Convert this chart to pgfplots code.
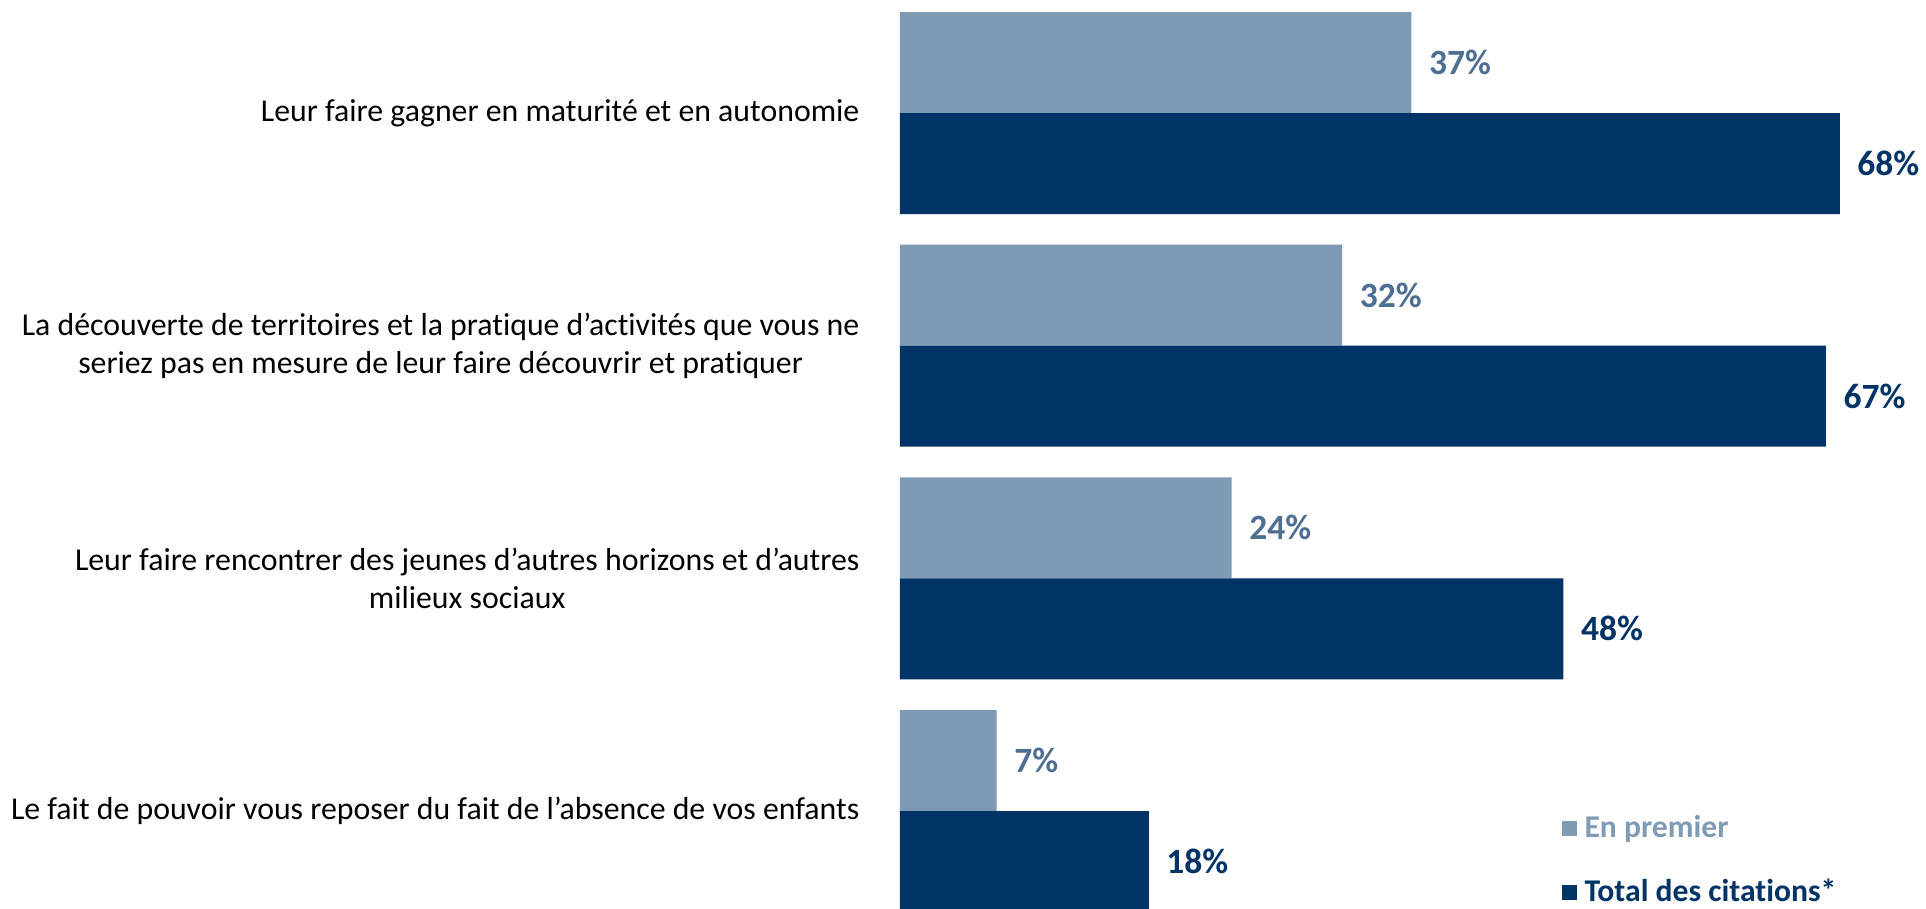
\documentclass[border=0pt]{standalone}
\usepackage{pgfplots}
\pgfplotsset{compat=1.18}
\usepackage{fontspec}
\setmainfont{Carlito}[Ligatures={NoCommon}]
\definecolor{lightbar}{HTML}{7F9AB4}
\definecolor{darkbar}{HTML}{003366}
\definecolor{lightlab}{HTML}{4E6E93}
\begin{document}
\begin{tikzpicture}
\useasboundingbox (-9cm,0) rectangle (10.26cm,9.08cm);
\begin{axis}[
    at={(0,0)}, anchor=south west,
    scale only axis,
    width=10.26cm, height=9.08cm,
    xbar,
    bar width=1.01cm,
    xmin=0, xmax=74.24,
    ymin=0.583, ymax=4.486,
    axis line style={draw=none},
    major tick length=0pt,
    xtick=\empty,
    ytick={1,2,3,4},
    yticklabels={
        {Le fait de pouvoir vous reposer du fait de l’absence de vos enfants},
        {Leur faire rencontrer des jeunes d’autres horizons et d’autres\\milieux sociaux},
        {La découverte de territoires et la pratique d’activités que vous ne\\seriez pas en mesure de leur faire découvrir et pratiquer},
        {Leur faire gagner en maturité et en autonomie}},
    yticklabel style={font=\fontsize{9.05}{10.8}\selectfont, align=center, inner sep=0pt, xshift=-0.4cm},
    clip=false,
    /pgf/number format/assume math mode=true,
    nodes near coords={\pgfmathprintnumber{\pgfplotspointmeta}\%},
    every node near coord/.append style={font=\fontsize{10.1}{12}\selectfont\bfseries, inner sep=0pt, xshift=0.17cm},
    legend style={draw=none, fill=none, inner sep=0pt, at={(0.645,0.111)}, anchor=north west,
        font=\fontsize{9}{11}\selectfont\bfseries, row sep=0.22cm},
    legend cell align=left,
    legend image code/.code={\fill[#1,draw=none] (0cm,-0.075cm) rectangle (0.15cm,0.075cm);},
]
\addplot[fill=lightbar, draw=none, bar shift=0.505cm,
    every node near coord/.append style={text=lightlab}]
    coordinates {(37,4) (32,3) (24,2) (7,1)};
\addplot[fill=darkbar, draw=none, bar shift=-0.505cm,
    every node near coord/.append style={text=darkbar}]
    coordinates {(68,4) (67,3) (48,2) (18,1)};
\addlegendentry{\textcolor{lightbar}{En premier}}
\addlegendentry{\textcolor{darkbar}{Total des citations*}}
\end{axis}
\end{tikzpicture}
\end{document}
